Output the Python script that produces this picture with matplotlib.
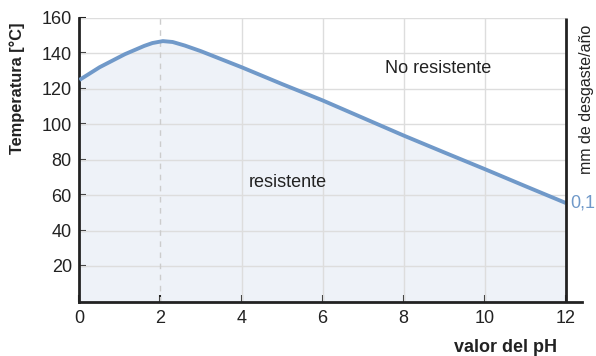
import matplotlib
matplotlib.use("Agg")
import matplotlib.pyplot as plt

plt.rcParams['font.family'] = ['Liberation Sans', 'DejaVu Sans']

# temperature limit vs pH
ph = [0, 0.5, 1.12, 1.6, 1.8, 2.06, 2.3, 2.6, 3, 4, 5, 6, 7, 8, 9, 10, 11, 12]
temp = [124.8, 132, 139.3, 144, 145.6, 146.7, 146.2, 144.2, 141, 132, 122.5, 113.3,
        103.4, 93.5, 84, 74.6, 65, 55.5]

xticks = [0, 2, 4, 6, 8, 10, 12]
yticks = [20, 40, 60, 80, 100, 120, 140, 160]

line_col = '#7099c9'
fill_col = '#eef2f8'
grid_col = '#dddddd'
ink = '#222222'

fig = plt.figure(figsize=(5.96, 3.56), dpi=100)
ax = fig.add_axes([79.4 / 596, 54.5 / 356, (582 - 79.4) / 596, (301.5 - 17.5) / 356])

ax.fill_between(ph, temp, 0, color=fill_col, zorder=1)
ax.plot(ph, temp, color=line_col, lw=2.8, zorder=4, solid_capstyle='butt', solid_joinstyle='round')

# grid, clipped to the pH range
for y in yticks:
    ax.hlines(y, 0, 12, color=grid_col, lw=1, zorder=2)
for x in xticks[2:-1]:
    ax.vlines(x, 0, 160, color=grid_col, lw=1, zorder=2)
ax.vlines(2, 0, 160, color='#cccccc', lw=1, linestyles=(0, (4, 4)), zorder=2)
ax.vlines(12, 0, 160, color=ink, lw=2, zorder=5)

ax.set_xlim(0, 12.4)
ax.set_ylim(0, 160)
ax.set_xticks(xticks)
ax.set_yticks(yticks)
ax.tick_params(direction='in', length=5, width=1.5, color=ink, labelsize=13, labelcolor=ink)
ax.tick_params(axis='x', pad=6)
ax.tick_params(axis='y', pad=5.5)
for s in ['top', 'right']:
    ax.spines[s].set_visible(False)
for s in ['left', 'bottom']:
    ax.spines[s].set_linewidth(2)
    ax.spines[s].set_color(ink)

ax.text(8.84, 131, 'No resistente', ha='center', va='center', fontsize=13, color=ink)
ax.text(5.14, 67.3, 'resistente', ha='center', va='center', fontsize=13, color=ink)
ax.text(12.12, 55.5, '0,1', ha='left', va='center', fontsize=13, color=line_col)
fig.text(587 / 596, 1 - 99 / 356, 'mm de desgaste/año', rotation=90, ha='center', va='center',
         fontsize=11.5, color=ink)

ax.set_ylabel('Temperatura [°C]', fontsize=11.8, fontweight='bold', color=ink)
ax.yaxis.set_label_coords(-0.108, 0.752)
fig.text(557 / 596, 1 - 347 / 356, 'valor del pH', ha='right', va='center', fontsize=13,
         fontweight='bold', color=ink)

fig.savefig('out.png', dpi=100)
